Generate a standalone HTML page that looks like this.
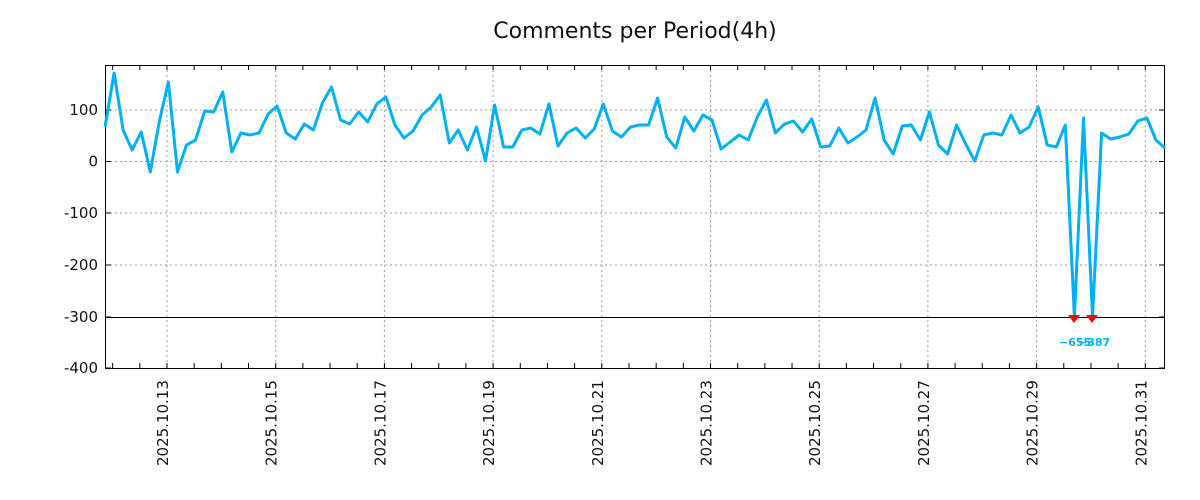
<!DOCTYPE html>
<html><head><style>body{margin:0;background:#fff}svg{display:block}</style></head><body>
<svg width="1200" height="500" xmlns="http://www.w3.org/2000/svg" font-family="DejaVu Sans, Liberation Sans, sans-serif">
<text x="635" y="38" font-size="22" text-anchor="middle" fill="#111">Comments per Period(4h)</text>
<g id="grid" stroke="#999" stroke-dasharray="2,3" stroke-width="1"></g>
<line x1="105" y1="317.5" x2="1165" y2="317.5" stroke="#000" stroke-width="1"/>
<rect x="105.5" y="65.5" width="1059" height="303" fill="none" stroke="#000" stroke-width="1"/>
<g id="ticks" stroke="#000"></g>
<g id="lbl" font-size="15" fill="#111"></g>
<polyline id="ln" fill="none" stroke="#00b0f0" stroke-width="3" stroke-linejoin="round"/>
<polygon points="1068,315 1080,315 1074,323" fill="#f00"/>
<polygon points="1086,315 1098,315 1092,323" fill="#f00"/>
<text x="1059" y="346" font-size="11" font-weight="bold" fill="#00b0f0">−655</text>
<text x="1078" y="346" font-size="11" font-weight="bold" fill="#00b0f0">−387</text>
</svg>
<script>
var ys=[127,73,130,150,132,172,121,82,172,145,140,111,112,92,152,133,135,133,114,106,133,139,124,130,103,87,120,124,112,122,104,97,125,138,131,115,107,95,143,130,150,127,161,105,147,147,130,128,134,104,146,133,128,138,129,104,131,137,127,125,125,98,137,148,117,131,115,120,149,142,135,140,117,100,133,124,121,132,119,147,146,128,143,137,130,98,140,154,126,125,140,112,145,154,125,144,161,135,133,135,115,133,127,107,145,147,125,317,118,317,133,139,137,134,121,118,140,148];
var s=(1165-105)/117,p=[];
ys.forEach(function(y,i){p.push((105+i*s).toFixed(1)+","+y)});
document.getElementById('ln').setAttribute('points',p.join(' '));
var NS="http://www.w3.org/2000/svg",g=document.getElementById('grid'),t=document.getElementById('ticks'),l=document.getElementById('lbl');
function el(par,n,a,txt){var e=document.createElementNS(NS,n);for(var k in a)e.setAttribute(k,a[k]);if(txt)e.textContent=txt;par.appendChild(e);}
var yv=[[100,110],[0,161.5],[-100,213],[-200,265],[-300,317],[-400,368]];
yv.forEach(function(v){if(v[0]>-300)el(g,'line',{x1:105,x2:1165,y1:v[1],y2:v[1]});
el(t,'line',{x1:105,x2:111,y1:v[1],y2:v[1]});el(t,'line',{x1:1159,x2:1165,y1:v[1],y2:v[1]});
el(l,'text',{x:98,y:v[1]+5,'text-anchor':'end'},String(v[0]));});
var day=54.35;
for(var k=0;k<10;k++){var x=167+k*2*day;var d=13+2*k;
el(g,'line',{x1:x,x2:x,y1:65,y2:368});
el(l,'text',{transform:'translate('+(x+1)+',466) rotate(-90)'},'2025.10.'+d);}
for(var x=167-2*day;x<1165;x+=day/2){if(x<105)continue;el(t,'line',{x1:x,x2:x,y1:65,y2:70});el(t,'line',{x1:x,x2:x,y1:363,y2:368});}
</script>
</body></html>
